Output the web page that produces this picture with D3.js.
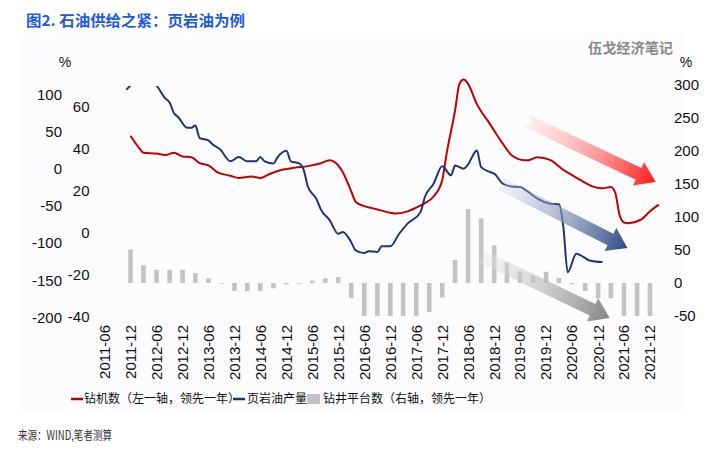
<!DOCTYPE html>
<html><head><meta charset="utf-8">
<script src="https://cdn.jsdelivr.net/npm/d3@7"></script>
<style>body{margin:0;background:#fff;}svg{display:block;}</style>
</head><body>
<svg id="c" width="713" height="451"></svg>
<script>
// ---- data ----
const xTickLabels = ["2011-06","2011-12","2012-06","2012-12","2013-06","2013-12","2014-06","2014-12","2015-06","2015-12","2016-06","2016-12","2017-06","2017-12","2018-06","2018-12","2019-06","2019-12","2020-06","2020-12","2021-06","2021-12"];
const leftOuterTicks = [100,50,0,-50,-100,-150,-200];
const leftInnerTicks = [60,40,20,0,-20,-40];
const rightTicks = [300,250,200,150,100,50,0,-50];

// 钻机数 (左一轴, 领先一年) %
const rigDates = ["2011-12","2012-02","2012-03","2012-06","2012-08","2012-10","2012-12","2013-02","2013-04","2013-06","2013-08","2013-11","2014-01","2014-04","2014-06","2014-08","2014-11","2015-02","2015-05","2015-08","2015-10","2015-11","2016-01","2016-03","2016-04","2016-06","2016-08","2016-10","2016-12","2017-01","2017-04","2017-06","2017-08","2017-10","2017-12","2018-01","2018-03","2018-04","2018-05","2018-06","2018-08","2018-11","2019-02","2019-04","2019-07","2019-08","2019-10","2020-01","2020-04","2020-06","2020-08","2020-11","2021-01","2021-03","2021-04","2021-05","2021-06","2021-07","2021-10","2021-12","2022-02"];
const rigValues = [45,28,22,21,19,22,17,16,8,5,-4,-9,-12,-10,-12,-7,-1,2,4,8,12,10,-4,-30,-44,-50,-53,-56,-59,-60,-57,-52,-46,-37,-15,21,79,115,121,115,88,61,34,19,12,12,16,12,-1,-8,-15,-24,-26,-24,-32,-62,-72,-73,-68,-57,-48];

// 页岩油产量 同比 %
const shaleDates = ["2011-11","2012-01","2012-03","2012-05","2012-06","2012-08","2012-09","2012-10","2012-11","2013-01","2013-02","2013-03","2013-04","2013-06","2013-07","2013-09","2013-10","2013-11","2014-01","2014-03","2014-05","2014-06","2014-07","2014-09","2014-10","2014-12","2015-01","2015-03","2015-04","2015-05","2015-07","2015-08","2015-10","2015-12","2016-01","2016-03","2016-04","2016-06","2016-07","2016-09","2016-10","2016-12","2017-02","2017-04","2017-07","2017-08","2017-10","2017-12","2018-02","2018-03","2018-05","2018-06","2018-08","2018-09","2018-11","2018-12","2019-02","2019-04","2019-06","2019-08","2019-10","2020-01","2020-03","2020-04","2020-05","2020-07","2020-08","2020-10","2021-01"];
const shaleValues = [68,72,74,72,70,64,62,57,55,50,50,51,45,44,42,39,36,34,36,34,34,36,34,33,36,39,34,33,30,22,16,11,6,-0.5,0.3,-4.5,-8.4,-9.7,-8.8,-9.2,-6.5,-6.5,-0.5,4.3,9.8,17,23.3,31.6,27.3,32,30.5,32.5,39.2,31.2,28.9,28.1,23.3,22,21.7,19.3,16.2,13.8,13.5,2.7,-18.8,-10,-10.8,-13.2,-14];

// 钻井平台数 (右轴, 领先一年) %, quarterly
const platformDates = ["2011-12","2012-03","2012-06","2012-09","2012-12","2013-03","2013-06","2013-09","2013-12","2014-03","2014-06","2014-09","2014-12","2015-03","2015-06","2015-09","2015-12","2016-03","2016-06","2016-09","2016-12","2017-03","2017-06","2017-09","2017-12","2018-03","2018-06","2018-09","2018-12","2019-03","2019-06","2019-09","2019-12","2020-03","2020-06","2020-09","2020-12","2021-03","2021-06","2021-09","2021-12"];
const platformValues = [51,27,20,20,20,15,7,-1,-12,-12.5,-12,-8,-2,-1,3.5,7,9,-23,-50,-50,-50,-50,-50,-44,-22,35,112,98,57,31,17,10.6,17,8,-2,-12,-23,-23,-50,-50,-50];

// trend arrows (date, right-axis value)
const arrows = [
  {name:"red", from:["2019-07-15",246], to:["2022-01-10",153], c0:"rgba(255,215,215,0.35)", c1:"#ff1a1a"},
  {name:"blue", from:["2019-01-10",151], to:["2021-06-25",53], c0:"rgba(205,215,235,0.3)", c1:"#2c4a80"},
  {name:"gray", from:["2018-08-20",42], to:["2021-02-20",-53], c0:"rgba(235,235,235,0.35)", c1:"#858585"}
];

// ---- chart ----
const svg = d3.select("#c");
const parse = d3.timeParse("%Y-%m");
const parseD = d3.timeParse("%Y-%m-%d");
const cjk = "'Noto Sans CJK SC','Noto Sans',sans-serif";
const num = "'Liberation Sans',Arial,sans-serif";

svg.append("rect").attr("x",22).attr("y",33).attr("width",662).attr("height",380).attr("fill","#fcfcfe");

const x = d3.scaleTime().domain([parse("2011-06"), parse("2021-12")]).range([104.5, 650]);
const yOuter = d3.scaleLinear().domain([-200,100]).range([317.3,95]);
const yInner = d3.scaleLinear().domain([-40,60]).range([316.7,106.7]);
const yRight = d3.scaleLinear().domain([-50,300]).range([316,85]);

const defs = svg.append("defs");
defs.append("clipPath").attr("id","plotclip").append("rect")
  .attr("x",90).attr("y",yRight(300)+1).attr("width",600).attr("height",yRight(-50)-yRight(300)+2);

// bars
svg.append("g").selectAll("rect").data(platformDates.map((d,i)=>({d:parse(d),v:platformValues[i]})))
  .join("rect")
  .attr("x",d=>x(d.d)-2.3).attr("width",4.6)
  .attr("y",d=>Math.min(yRight(d.v),yRight(0)))
  .attr("height",d=>Math.abs(yRight(d.v)-yRight(0)))
  .attr("fill","#c3c3c3");

// lines
const rigData = rigDates.map((d,i)=>({d:parse(d),v:rigValues[i]}));
const shaleData = shaleDates.map((d,i)=>({d:parse(d),v:shaleValues[i]}));
svg.append("path").datum(rigData).attr("fill","none").attr("stroke","#c00000").attr("stroke-width",2)
  .attr("d", d3.line().x(d=>x(d.d)).y(d=>yOuter(d.v)).curve(d3.curveMonotoneX));
svg.append("g").attr("clip-path","url(#plotclip)")
  .append("path").datum(shaleData).attr("fill","none").attr("stroke","#1f3572").attr("stroke-width",2)
  .attr("d", d3.line().x(d=>x(d.d)).y(d=>yInner(d.v)).curve(d3.curveMonotoneX));

// arrows
arrows.forEach(a=>{
  const x0=x(parseD(a.from[0])), y0=yRight(a.from[1]), x1=x(parseD(a.to[0])), y1=yRight(a.to[1]);
  const L=Math.hypot(x1-x0,y1-y0), ang=Math.atan2(y1-y0,x1-x0)*180/Math.PI;
  const gid="grad-"+a.name;
  const gr=defs.append("linearGradient").attr("id",gid).attr("x1","0").attr("x2","1").attr("y1","0").attr("y2","0");
  gr.append("stop").attr("offset","0").attr("stop-color",a.c0);
  gr.append("stop").attr("offset","1").attr("stop-color",a.c1);
  const w=6.5,h=13,hl=19,n=6;
  const pts=[[0,-w],[L-hl,-w],[L-hl,-h],[L,0],[L-hl,h],[L-hl,w],[0,w],[n,0]];
  svg.append("polygon").attr("points",pts.map(p=>p.join(",")).join(" "))
    .attr("transform",`translate(${x0},${y0}) rotate(${ang})`)
    .attr("fill",`url(#${gid})`);
});

// axes labels
const tg = svg.append("g").attr("font-family",num).attr("font-size",15).attr("fill","#111");
leftOuterTicks.forEach(t=>tg.append("text").attr("x",62).attr("y",yOuter(t)).attr("dy","0.35em").attr("text-anchor","end").text(t));
leftInnerTicks.forEach(t=>tg.append("text").attr("x",89.5).attr("y",yInner(t)).attr("dy","0.35em").attr("text-anchor","end").text(t));
rightTicks.forEach(t=>tg.append("text").attr("x",674).attr("y",yRight(t)).attr("dy","0.35em").attr("text-anchor","start").text(t));
xTickLabels.forEach(t=>{
  const xx=x(parse(t));
  tg.append("text").attr("transform",`translate(${xx},325) rotate(-90)`).attr("dy","0.36em").attr("text-anchor","end").text(t);
});
tg.append("text").attr("x",65).attr("y",62).attr("dy","0.35em").attr("text-anchor","middle").attr("font-size",14).text("%");
tg.append("text").attr("x",686).attr("y",62).attr("dy","0.35em").attr("text-anchor","middle").attr("font-size",14).text("%");

// title, watermark, source
svg.append("text").attr("x",26).attr("y",21).attr("dy","0.35em").attr("font-family",cjk).attr("font-weight","bold")
  .attr("font-size",15).attr("fill","#1b5ae0").attr("textLength",219).attr("lengthAdjust","spacingAndGlyphs")
  .text("图2. 石油供给之紧：页岩油为例");
svg.append("text").attr("x",588).attr("y",48).attr("dy","0.35em").attr("font-family",cjk).attr("font-weight","bold")
  .attr("font-size",14).attr("fill","#8a8a8a").attr("textLength",85).attr("lengthAdjust","spacingAndGlyphs")
  .text("伍戈经济笔记");
svg.append("text").attr("x",18).attr("y",436).attr("dy","0.35em").attr("font-family",cjk)
  .attr("font-size",12.5).attr("fill","#333").attr("textLength",94).attr("lengthAdjust","spacingAndGlyphs")
  .text("来源：WIND,笔者测算");

// legend
const lg = svg.append("g").attr("font-family",cjk).attr("font-size",12).attr("fill","#111");
const ly = 399;
lg.append("line").attr("x1",71).attr("x2",83).attr("y1",ly).attr("y2",ly).attr("stroke","#c00000").attr("stroke-width",2.5);
lg.append("text").attr("x",84).attr("y",ly).attr("dy","0.35em").text("钻机数（左一轴，领先一年）");
lg.append("line").attr("x1",233).attr("x2",245).attr("y1",ly).attr("y2",ly).attr("stroke","#1f3572").attr("stroke-width",2.5);
lg.append("text").attr("x",247).attr("y",ly).attr("dy","0.35em").text("页岩油产量");
lg.append("rect").attr("x",307).attr("y",ly-5).attr("width",13).attr("height",10).attr("fill","#c3c3c3");
lg.append("text").attr("x",323).attr("y",ly).attr("dy","0.35em").text("钻井平台数（右轴，领先一年）");
</script>
</body></html>
